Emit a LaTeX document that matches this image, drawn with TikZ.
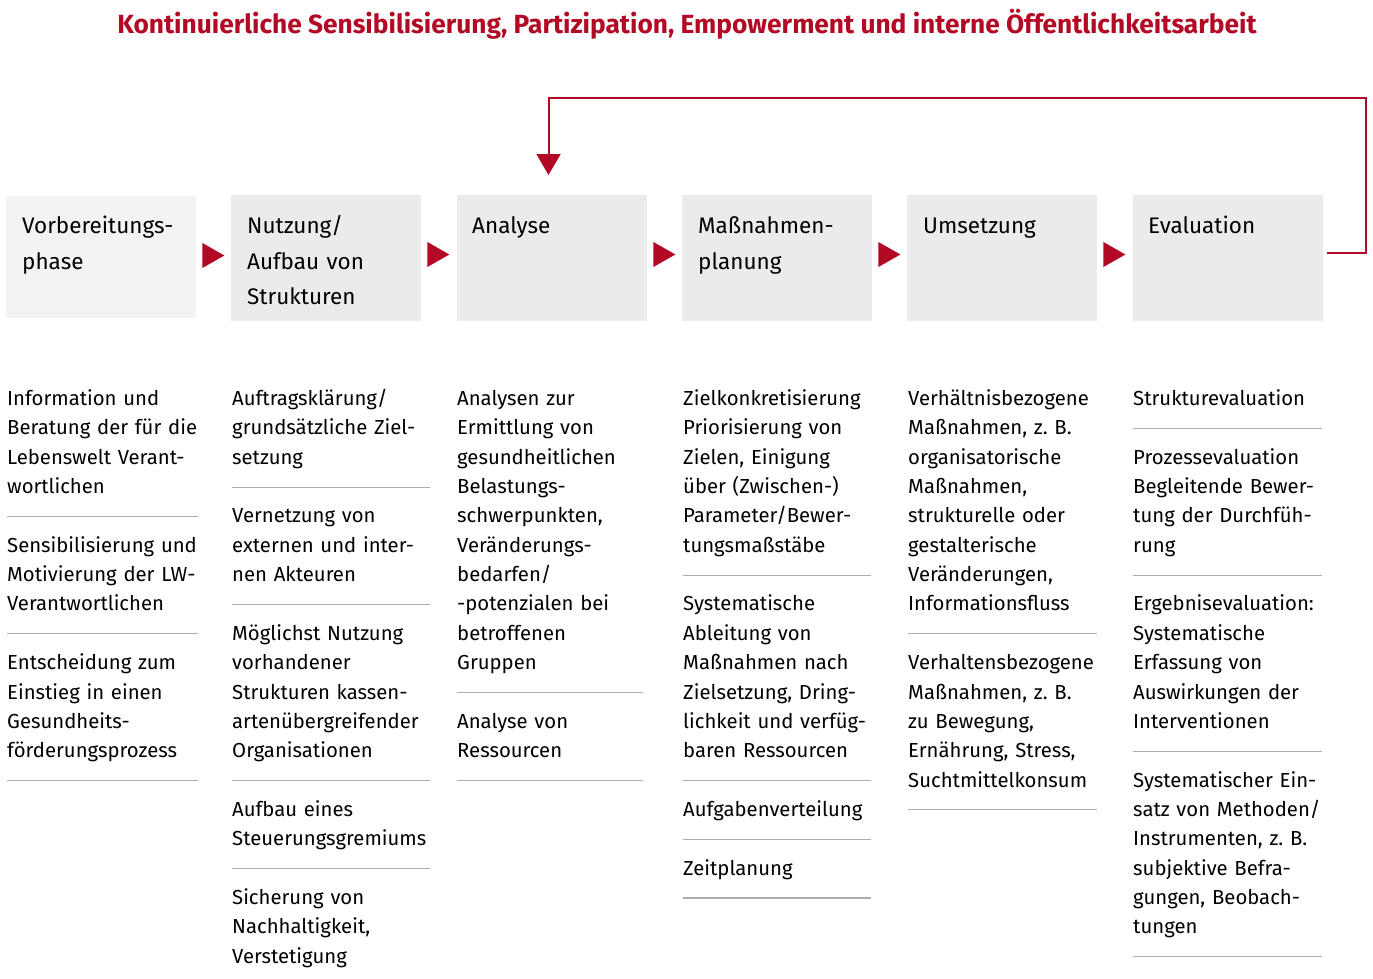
\documentclass[tikz,border=0pt]{standalone}
\usepackage{fontspec}
\setmainfont{Fira Sans}
\usetikzlibrary{calc,arrows.meta}
\definecolor{dred}{RGB}{178,10,36}
\definecolor{boxA}{RGB}{243,243,243}
\definecolor{boxB}{RGB}{234,235,234}
\definecolor{rulegray}{RGB}{172,172,172}
\newcommand\myentry[4]{\node[entry] (#1) at (#2,{405.5+29.35*#3}) {#4};}
\newcommand\myrule[3]{\draw[sep] (#1,{399+29.35*#3}) -- (#2,{399+29.35*#3});}
\begin{document}
\begin{tikzpicture}[x=1pt,y=-1pt,
  phase/.style={fill=boxB, minimum width=190pt, minimum height=126pt, inner sep=0pt, anchor=north west},
  ptext/.style={anchor=base west, inner sep=0pt, align=left, text width=180pt, font=\fontsize{22.5}{35.7}\selectfont},
  entry/.style={anchor=base west, inner sep=0pt, align=left, text width=240pt, font=\fontsize{20.3}{29.35}\selectfont},
  sep/.style={draw=rulegray, line width=1.1pt},
  tri/.style={fill=dred},
  fb/.style={draw=dred, line width=2pt}]
\useasboundingbox (0,0) rectangle (1373,979);

% title
\node[anchor=base, inner sep=0pt, text=dred, font=\fontsize{26.3}{30}\selectfont\bfseries] (title) at (687,34)
  {Kontinuierliche Sensibilisierung, Partizipation, Empowerment und interne Öffentlichkeitsarbeit};

% phase boxes
\node[phase, fill=boxA, minimum height=122pt] (p1) at (6,196) {};
\node[phase] (p2) at (231,195) {};
\node[phase] (p3) at (457,195) {};
\node[phase] (p4) at (682,195) {};
\node[phase] (p5) at (907,195) {};
\node[phase] (p6) at (1133,195) {};

\node[ptext] (p1t) at (22,233.3) {Vorbereitungs-\\phase};
\node[ptext] (p2t) at (247,233.3) {Nutzung/\\Aufbau von\\Strukturen};
\node[ptext] (p3t) at (472,233.3) {Analyse};
\node[ptext] (p4t) at (698,233.3) {Maßnahmen-\\planung};
\node[ptext] (p5t) at (923,233.3) {Umsetzung};
\node[ptext] (p6t) at (1148,233.3) {Evaluation};

% arrows between boxes
\fill[tri] ($(p1.north east)+(6,47)$) -- ++(22,12.5) -- ++(-22,12.5) -- cycle;
\fill[tri] ($(p2.north east)+(6,47)$) -- ++(22,12.5) -- ++(-22,12.5) -- cycle;
\fill[tri] ($(p3.north east)+(6,47)$) -- ++(22,12.5) -- ++(-22,12.5) -- cycle;
\fill[tri] ($(p4.north east)+(6,47)$) -- ++(22,12.5) -- ++(-22,12.5) -- cycle;
\fill[tri] ($(p5.north east)+(6,47)$) -- ++(22,12.5) -- ++(-22,12.5) -- cycle;

% feedback loop
\coordinate (fbstart) at ($(p6.north east)+(4,58)$);
\coordinate (fbcorner) at (1366,98);
\coordinate (fbend) at (548.5,175);
\draw[fb, -{Triangle[length=21pt,width=24pt]}] (fbstart) -| (fbcorner) -| (fbend);

% column 1
\myentry{c1a}{7}{0}{Information und\\Beratung der für die\\Lebenswelt Verant-\\wortlichen}
\myrule{7}{198}{4}
\myentry{c1b}{7}{5}{Sensibilisierung und\\Motivierung der LW-\\Verantwortlichen}
\myrule{7}{198}{8}
\myentry{c1c}{7}{9}{Entscheidung zum\\Einstieg in einen\\Gesundheits-\\förderungsprozess}
\myrule{7}{198}{13}

% column 2
\myentry{c2a}{232}{0}{Auftragsklärung/\\grundsätzliche Ziel-\\setzung}
\myrule{232}{430}{3}
\myentry{c2b}{232}{4}{Vernetzung von\\externen und inter-\\nen Akteuren}
\myrule{232}{430}{7}
\myentry{c2c}{232}{8}{Möglichst Nutzung\\vorhandener\\Strukturen kassen-\\artenübergreifender\\Organisationen}
\myrule{232}{430}{13}
\myentry{c2d}{232}{14}{Aufbau eines\\Steuerungsgremiums}
\myrule{232}{430}{16}
\myentry{c2e}{232}{17}{Sicherung von\\Nachhaltigkeit,\\Verstetigung}

% column 3
\myentry{c3a}{457}{0}{Analysen zur\\Ermittlung von\\gesundheitlichen\\Belastungs-\\schwerpunkten,\\Veränderungs-\\bedarfen/\\-potenzialen bei\\betroffenen\\Gruppen}
\myrule{457}{643}{10}
\myentry{c3b}{457}{11}{Analyse von\\Ressourcen}
\myrule{457}{643}{13}

% column 4
\myentry{c4a}{683}{0}{Zielkonkretisierung\\Priorisierung von\\Zielen, Einigung\\über (Zwischen-)\\Parameter/Bewer-\\tungsmaßstäbe}
\myrule{683}{871}{6}
\myentry{c4b}{683}{7}{Systematische\\Ableitung von\\Maßnahmen nach\\Zielsetzung, Dring-\\lichkeit und verfüg-\\baren Ressourcen}
\myrule{683}{871}{13}
\myentry{c4c}{683}{14}{Aufgabenverteilung}
\myrule{683}{871}{15}
\myentry{c4d}{683}{16}{Zeitplanung}
\myrule{683}{871}{17}

% column 5
\myentry{c5a}{908}{0}{Verhältnisbezogene\\Maßnahmen, z.~B.\\organisatorische\\Maßnahmen,\\strukturelle oder\\gestalterische\\Veränderungen,\\Informationsfluss}
\myrule{908}{1097}{8}
\myentry{c5b}{908}{9}{Verhaltensbezogene\\Maßnahmen, z.~B.\\zu Bewegung,\\Ernährung, Stress,\\Suchtmittelkonsum}
\myrule{908}{1097}{14}

% column 6
\myentry{c6a}{1133}{0}{Strukturevaluation}
\myrule{1133}{1322}{1}
\myentry{c6b}{1133}{2}{Prozessevaluation\\Begleitende Bewer-\\tung der Durchfüh-\\rung}
\myrule{1133}{1322}{6}
\myentry{c6c}{1133}{7}{Ergebnisevaluation:\\Systematische\\Erfassung von\\Auswirkungen der\\Interventionen}
\myrule{1133}{1322}{12}
\myentry{c6d}{1133}{13}{Systematischer Ein-\\satz von Methoden/\\Instrumenten, z.~B.\\subjektive Befra-\\gungen, Beobach-\\tungen}
\myrule{1133}{1322}{19}
\end{tikzpicture}
\end{document}
